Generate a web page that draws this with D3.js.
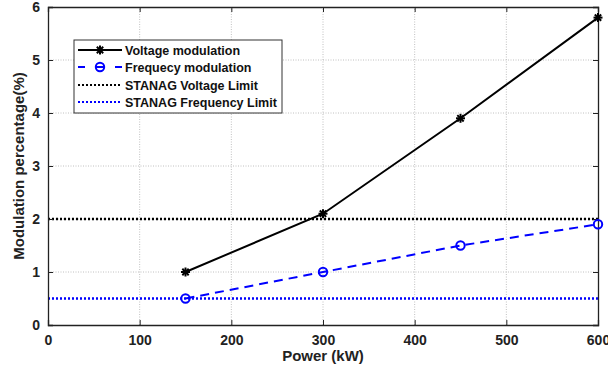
<!DOCTYPE html>
<html><head><meta charset="utf-8">
<script src="https://cdn.jsdelivr.net/npm/d3@7"></script>
<style>body{margin:0;background:#fff}svg{display:block}text{font-family:Arial,"Liberation Sans",sans-serif;font-weight:bold}</style>
</head><body><svg id="c" width="608" height="374"></svg>
<script>
const power = [150, 300, 450, 600];
const voltageMod = [1.0, 2.1, 3.9, 5.8];
const freqMod = [0.5, 1.0, 1.5, 1.9];
const voltageLimit = 2;
const freqLimit = 0.5;
const xTicks = [0,100,200,300,400,500,600];
const yTicks = [0,1,2,3,4,5,6];
const legendLabels = ["Voltage modulation","Frequecy modulation","STANAG Voltage Limit","STANAG Frequency Limit"];

const svg = d3.select("#c");
const x = d3.scaleLinear().domain([0,600]).range([48,598]);
const y = d3.scaleLinear().domain([0,6]).range([325,7]);

// grid
const g = svg.append("g");
g.selectAll(".gx").data(xTicks.slice(1,-1)).enter().append("line")
 .attr("x1",d=>x(d)).attr("x2",d=>x(d)).attr("y1",y(0)).attr("y2",y(6))
 .attr("stroke","#b0b0b0").attr("stroke-width",0.8).attr("stroke-dasharray","1,1.5");
g.selectAll(".gy").data(yTicks.slice(1,-1)).enter().append("line")
 .attr("y1",d=>y(d)).attr("y2",d=>y(d)).attr("x1",x(0)).attr("x2",x(600))
 .attr("stroke","#b0b0b0").attr("stroke-width",0.8).attr("stroke-dasharray","1,1.5");

// limit lines
svg.append("line").attr("x1",x(0)).attr("x2",x(600)).attr("y1",y(voltageLimit)).attr("y2",y(voltageLimit))
 .attr("stroke","#000").attr("stroke-width",2.5).attr("stroke-dasharray","2,2");
svg.append("line").attr("x1",x(0)).attr("x2",x(600)).attr("y1",y(freqLimit)).attr("y2",y(freqLimit))
 .attr("stroke","#0000ff").attr("stroke-width",2.5).attr("stroke-dasharray","2,2");

// axes
const fmt = d3.format("d");
const ax = d3.axisBottom(x).tickValues(xTicks).tickSize(-5).tickPadding(10).tickFormat(fmt);
const ay = d3.axisLeft(y).tickValues(yTicks).tickSize(-5).tickPadding(8).tickFormat(fmt);
const gx = svg.append("g").attr("transform",`translate(0,${y(0)})`).call(ax);
const gy = svg.append("g").attr("transform",`translate(${x(0)},0)`).call(ay);
const gx2 = svg.append("g").attr("transform",`translate(0,${y(6)})`).call(d3.axisTop(x).tickValues(xTicks).tickSize(-5).tickFormat(""));
const gy2 = svg.append("g").attr("transform",`translate(${x(600)},0)`).call(d3.axisRight(y).tickValues(yTicks).tickSize(-5).tickFormat(""));
[gx,gy,gx2,gy2].forEach(a=>{
  a.select(".domain").attr("stroke","#222").attr("stroke-width",1.3);
  a.selectAll(".tick line").attr("stroke","#222");
  a.selectAll("text").attr("font-size",14).attr("font-weight","bold").attr("fill","#222")
   .attr("font-family","Arial, Liberation Sans, sans-serif");
});

// lines
const line = d3.line().x(d=>x(d[0])).y(d=>y(d[1]));
const vData = power.map((p,i)=>[p,voltageMod[i]]);
const fData = power.map((p,i)=>[p,freqMod[i]]);
svg.append("path").datum(vData).attr("d",line).attr("fill","none").attr("stroke","#000").attr("stroke-width",2);
svg.append("path").datum(fData).attr("d",line).attr("fill","none").attr("stroke","#0000ff").attr("stroke-width",2).attr("stroke-dasharray","9,6");

function star(sel,cx,cy,r){
  const gg = sel.append("g");
  for(let k=0;k<4;k++){
    const a = k*Math.PI/4;
    gg.append("line").attr("x1",cx-r*Math.cos(a)).attr("y1",cy-r*Math.sin(a))
      .attr("x2",cx+r*Math.cos(a)).attr("y2",cy+r*Math.sin(a)).attr("stroke","#000").attr("stroke-width",2);
  }
}
vData.forEach(d=>star(svg,x(d[0]),y(d[1]),4.5));
svg.selectAll(".fm").data(fData).enter().append("circle")
 .attr("cx",d=>x(d[0])).attr("cy",d=>y(d[1])).attr("r",4.2)
 .attr("fill","none").attr("stroke","#0000ff").attr("stroke-width",2);

// axis titles
svg.append("text").attr("x",x(300)).attr("y",361).attr("text-anchor","middle").attr("font-size",15).attr("fill","#222").text("Power (kW)");
svg.append("text").attr("transform",`translate(24,${y(3)}) rotate(-90)`).attr("text-anchor","middle").attr("font-size",15).attr("fill","#222").text("Modulation percentage(%)");

// legend
const lg = svg.append("g");
lg.append("rect").attr("x",74).attr("y",40).attr("width",208).attr("height",73).attr("fill","#fff").attr("stroke","#333").attr("stroke-width",1);
const rowsY = [50,67,85,102];
const lx1 = 78, lx2 = 122;
lg.append("line").attr("x1",lx1).attr("x2",lx2).attr("y1",rowsY[0]).attr("y2",rowsY[0]).attr("stroke","#000").attr("stroke-width",2);
star(lg,(lx1+lx2)/2,rowsY[0],4.5);
lg.append("line").attr("x1",lx1).attr("x2",lx2).attr("y1",rowsY[1]).attr("y2",rowsY[1]).attr("stroke","#0000ff").attr("stroke-width",2).attr("stroke-dasharray","7,10.5,9,10.5,7");
lg.append("circle").attr("cx",(lx1+lx2)/2).attr("cy",rowsY[1]).attr("r",4.2).attr("fill","none").attr("stroke","#0000ff").attr("stroke-width",2);
lg.append("line").attr("x1",lx1).attr("x2",lx2).attr("y1",rowsY[2]).attr("y2",rowsY[2]).attr("stroke","#000").attr("stroke-width",2).attr("stroke-dasharray","2,2");
lg.append("line").attr("x1",lx1).attr("x2",lx2).attr("y1",rowsY[3]).attr("y2",rowsY[3]).attr("stroke","#0000ff").attr("stroke-width",2).attr("stroke-dasharray","2,2");
legendLabels.forEach((t,i)=>{
  lg.append("text").attr("x",125).attr("y",rowsY[i]+4.5).attr("font-size",12.5).attr("fill","#111").text(t);
});
</script></body></html>
